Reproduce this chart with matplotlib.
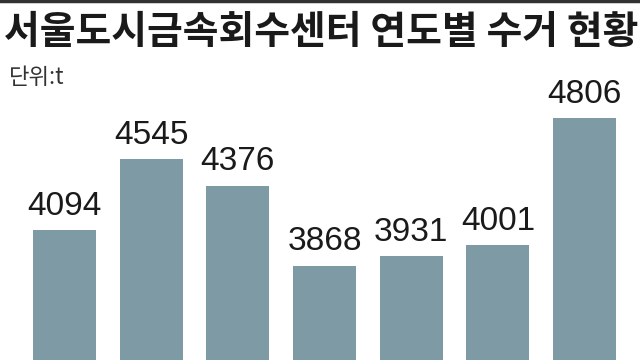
import matplotlib.pyplot as plt
from matplotlib import font_manager

# collection amount per year (t), left to right
values = [4094, 4545, 4376, 3868, 3931, 4001, 4806]
title = '서울도시금속회수센터 연도별 수거 현황'
unit = '단위:t'

bar_color = '#7e9aa4'

names = {f.name for f in font_manager.fontManager.ttflist}
num_font = 'Liberation Sans Narrow' if 'Liberation Sans Narrow' in names else 'Liberation Sans'

fig = plt.figure(figsize=(6.4, 3.6), dpi=100)
ax = fig.add_axes([0, 0, 1, 1])

x = list(range(len(values)))
ax.bar(x, values, width=0.727, color=bar_color)

for xi, v in zip(x, values):
    ax.annotate(str(v), (xi, v), xytext=(0, 6), textcoords='offset points',
                ha='center', va='bottom', fontsize=24, family=num_font,
                color='#1a1a1a')

ax.set_xlim(-0.744, 6.64)
ax.set_ylim(3270, 5556)
ax.axis('off')

# thin rule at the very top
fig.add_artist(plt.Line2D([0, 1], [0.996, 0.996], color='#333333', lw=2.5))

fig.text(0.006, 0.965, title, family=['Noto Sans CJK KR', 'DejaVu Sans'],
         fontsize=28, weight='bold', va='top', ha='left', color='#1a1a1a')
fig.text(0.014, 0.785, unit, family=['Noto Sans CJK KR', 'DejaVu Sans'],
         fontsize=16, va='center', ha='left', color='#333333')

fig.savefig('out.png', dpi=100)
